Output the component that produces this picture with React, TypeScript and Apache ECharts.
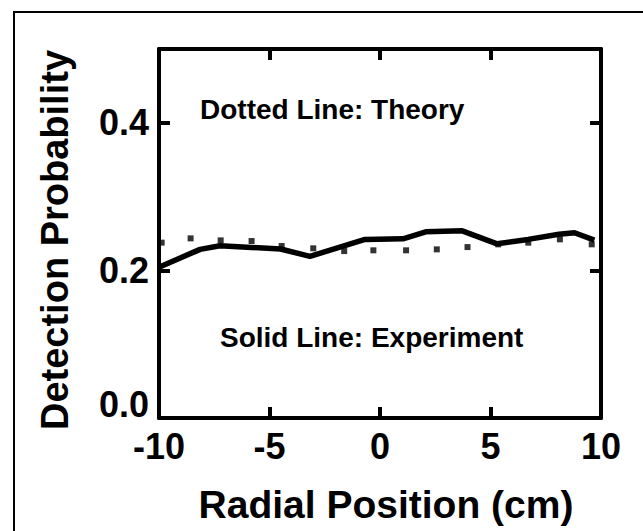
import React, { useEffect, useRef } from "react";
import * as echarts from "echarts";

const experimentX = [-9.95, -8.14, -7.24, -4.5, -3.17, -0.68, 1.04, 2.07, 3.72, 5.3, 6.7, 8.1, 8.8, 9.7];
const experimentY = [0.205, 0.2285, 0.2333, 0.229, 0.219, 0.242, 0.2428, 0.2523, 0.2536, 0.236, 0.242, 0.249, 0.251, 0.241];

const theoryX = [-9.88, -8.57, -7.21, -5.81, -4.45, -3.02, -1.62, -0.3, 1.18, 2.57, 3.96, 5.35, 6.71, 8.14, 9.58];
const theoryY = [0.2376, 0.2434, 0.2407, 0.2398, 0.233, 0.2299, 0.2262, 0.2272, 0.2272, 0.2285, 0.2316, 0.2353, 0.2376, 0.2421, 0.2353];

const xTitle = "Radial Position (cm)";
const yTitle = "Detection Probability";
const theoryNote = "Dotted Line: Theory";
const experimentNote = "Solid Line: Experiment";

const FONT = "'Liberation Sans', Arial, Helvetica, sans-serif";

export default function App() {
  const ref = useRef<HTMLDivElement>(null);

  useEffect(() => {
    document.body.style.margin = "0";
    if (!ref.current) return;
    const chart = echarts.init(ref.current, null, { renderer: "svg" });

    const axisLine = { show: true, onZero: false, lineStyle: { color: "#000", width: 4 } };
    const axisTick = { show: true, inside: true, length: 11, lineStyle: { color: "#000", width: 4 } };

    chart.setOption({
      animation: false,
      backgroundColor: "#fff",
      grid: { left: 159, right: 42, top: 49, bottom: 113, containLabel: false },
      xAxis: [
        {
          type: "value",
          position: "bottom",
          min: -10,
          max: 10,
          interval: 5,
          axisLine,
          axisTick,
          splitLine: { show: false },
          axisLabel: { color: "#000", fontSize: 36, fontWeight: "bold", fontFamily: FONT, margin: 14, lineHeight: 28 },
        },
        {
          type: "value",
          position: "top",
          min: -10,
          max: 10,
          interval: 5,
          axisLine,
          axisTick,
          splitLine: { show: false },
          axisLabel: { show: false },
        },
      ],
      yAxis: [
        {
          type: "value",
          position: "left",
          min: 0,
          max: 0.5,
          interval: 0.2,
          axisLine,
          axisTick,
          splitLine: { show: false },
          axisLabel: {
            color: "#000",
            fontSize: 36,
            fontWeight: "bold",
            fontFamily: FONT,
            margin: 10,
            lineHeight: 28,
            verticalAlignMinLabel: "bottom",
            showMaxLabel: false,
            formatter: (v: number) => (Math.abs(v - 0.5) < 1e-9 ? "" : v.toFixed(1)),
          },
        },
        {
          type: "value",
          position: "right",
          min: 0,
          max: 0.5,
          interval: 0.2,
          axisLine,
          axisTick,
          splitLine: { show: false },
          axisLabel: { show: false },
        },
      ],
      series: [
        {
          name: "Experiment",
          type: "line",
          xAxisIndex: 0,
          yAxisIndex: 0,
          data: experimentX.map((x, i) => [x, experimentY[i]]),
          showSymbol: false,
          symbol: "none",
          lineStyle: { color: "#000", width: 5.5 },
          z: 3,
        },
        {
          name: "Theory",
          type: "scatter",
          xAxisIndex: 0,
          yAxisIndex: 0,
          data: theoryX.map((x, i) => [x, theoryY[i]]),
          symbol: "rect",
          symbolSize: 6,
          itemStyle: { color: "#000" },
          z: 4,
        },
      ],
      graphic: [
        {
          type: "rect",
          shape: { x: 14, y: 12, width: 700, height: 600 },
          style: { fill: "none", stroke: "#000", lineWidth: 2 },
          silent: true,
        },
        {
          type: "text",
          x: 200,
          y: 109,
          style: { text: theoryNote, fontSize: 28, fontWeight: "bold", fontFamily: FONT, fill: "#000", textAlign: "left", textVerticalAlign: "middle" },
        },
        {
          type: "text",
          x: 220,
          y: 337,
          style: { text: experimentNote, fontSize: 28, fontWeight: "bold", fontFamily: FONT, fill: "#000", textAlign: "left", textVerticalAlign: "middle" },
        },
        {
          type: "text",
          x: 386,
          y: 504,
          style: { text: xTitle, fontSize: 39, fontWeight: "bold", fontFamily: FONT, fill: "#000", textAlign: "center", textVerticalAlign: "middle" },
        },
        {
          type: "text",
          x: 55,
          y: 240,
          rotation: Math.PI / 2,
          style: { text: yTitle, fontSize: 38, fontWeight: "bold", fontFamily: FONT, fill: "#000", textAlign: "center", textVerticalAlign: "middle" },
        },
      ],
    });

    return () => chart.dispose();
  }, []);

  return <div ref={ref} style={{ width: 643, height: 531 }} />;
}
